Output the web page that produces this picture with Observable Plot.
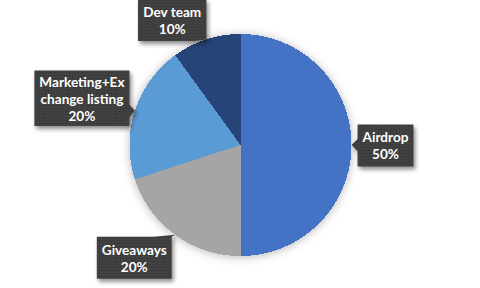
<!DOCTYPE html>
<html>
<head>
<meta charset="utf-8">
<script src="https://cdn.jsdelivr.net/npm/d3@7"></script>
<script src="https://cdn.jsdelivr.net/npm/@observablehq/plot@0.6"></script>
<style>
  html, body { margin: 0; padding: 0; background: #ffffff; }
  #chart { width: 480px; height: 288px; }
</style>
</head>
<body>
<svg width="0" height="0" style="position:absolute">
  <defs>
    <!-- speckled dark fill used by the callout boxes -->
    <pattern id="dots" width="3" height="3" patternUnits="userSpaceOnUse">
      <rect width="3" height="3" fill="#3c3c3c"></rect>
      <rect x="1" y="1" width="1" height="1" fill="#585858"></rect>
    </pattern>
  </defs>
</svg>
<div id="chart"></div>
<script>
// Token allocation
const categories = ["Airdrop", "Giveaways", "Marketing+Exchange listing", "Dev team"];
const shares = [50, 20, 20, 10];
const labelNames = ["Airdrop", "Giveaways", "Marketing+Ex\nchange listing", "Dev team"];
const sliceColors = ["#4472C4", "#A5A5A5", "#5B9BD5", "#264478"];

// Layout: pie centre / radius in pixels, callout placement relative to the
// point on the rim at each slice's mid-angle (pixel offsets, screen y down).
const R = 111, CX = 240, CY = 144.5;
const FONT_SIZE = 13.6, LINE_PX = 17, PAD_X = 5;
const FONT_FAMILY = "Lato, 'Liberation Sans', sans-serif";
const calloutLayout = {
  "Airdrop": {dx: 34, dy: 0.5, side: "left"},
  "Giveaways": {dx: -41, dy: 23, side: "top"},
  "Marketing+Exchange listing": {dx: -53, dy: -12.5, side: "right"},
  "Dev team": {dx: -34, dy: -19.5, side: "bottom"}
};

// Slice angles run clockwise from 12 o'clock.
const arcs = d3.pie().sort(null).value(d => d)(shares);
const polar = (a) => [Math.sin(a), Math.cos(a)];

// Each slice as a closed polygon in unit-circle coordinates.
const slicePts = arcs.flatMap((a, i) => {
  const cat = categories[i];
  const n = Math.max(2, Math.ceil((a.endAngle - a.startAngle) / 0.005));
  const pts = [{cat, x: 0, y: 0}];
  for (let k = 0; k <= n; ++k) {
    const [x, y] = polar(a.startAngle + (a.endAngle - a.startAngle) * k / n);
    pts.push({cat, x, y});
  }
  return pts;
});

// Text metrics for sizing the callout boxes.
const ctx = document.createElement("canvas").getContext("2d");
ctx.font = `bold ${FONT_SIZE}px ${FONT_FAMILY}`;

const labels = [];
const calloutPts = [];
arcs.forEach((a, i) => {
  const cat = categories[i];
  const text = `${labelNames[i]}\n${shares[i]}%`;
  const lines = text.split("\n");
  const w = d3.max(lines, s => ctx.measureText(s).width) + 2 * PAD_X;
  const h = 13.5 * lines.length + 15;
  const {dx, dy, side} = calloutLayout[cat];
  const [ex, ey] = polar((a.startAngle + a.endAngle) / 2);
  const toUnit = ([px, py]) => ({cat, x: ex + px / R, y: ey - py / R});

  const left = dx - w / 2, right = dx + w / 2, top = dy - h / 2, bottom = dy + h / 2;
  const hw = 6;
  const cx = Math.min(Math.max(0, left + hw), right - hw);
  const cy = Math.min(Math.max(0, top + hw), bottom - hw);
  const poly = [[left, top]];
  if (side === "top") poly.push([cx - 2 * hw, top], [0, 0], [cx + hw, top]);
  poly.push([right, top]);
  if (side === "right") poly.push([right, cy - hw], [0, 0], [right, cy + hw]);
  poly.push([right, bottom]);
  if (side === "bottom") poly.push([cx + hw, bottom], [0, 0], [cx - hw, bottom]);
  poly.push([left, bottom]);
  if (side === "left") poly.push([left, cy + hw], [0, 0], [left, cy - hw]);
  poly.forEach(p => calloutPts.push(toUnit(p)));

  labels.push({...toUnit([dx, dy]), text});
});

const withFilter = (css, extra = {}) => ({
  ...extra,
  render(index, scales, values, dimensions, context, next) {
    const g = next(index, scales, values, dimensions, context);
    g.style.filter = css;
    return g;
  }
});

const chart = Plot.plot({
  width: 480,
  height: 288,
  margin: 0,
  style: {background: "#ffffff", overflow: "hidden"},
  x: {domain: [-1, 1], range: [CX - R, CX + R], axis: null},
  y: {domain: [-1, 1], range: [CY + R, CY - R], axis: null},
  color: {domain: categories, range: sliceColors},
  marks: [
    Plot.line(slicePts, withFilter("drop-shadow(0px 1px 5px rgba(0,0,0,0.28))", {
      x: "x", y: "y", z: "cat", fill: "cat", stroke: "none", shapeRendering: "crispEdges"
    })),
    Plot.line(calloutPts, withFilter("drop-shadow(2px 3px 2px rgba(0,0,0,0.45))", {
      x: "x", y: "y", z: "cat", fill: "url(#dots)", stroke: "none"
    })),
    Plot.text(labels, {
      x: "x", y: "y", text: "text",
      fill: "#ffffff",
      fontSize: FONT_SIZE,
      fontWeight: "bold",
      fontFamily: FONT_FAMILY,
      lineHeight: LINE_PX / FONT_SIZE,
      textAnchor: "middle",
      lineAnchor: "middle"
    })
  ]
});

document.getElementById("chart").appendChild(chart);
</script>
</body>
</html>
